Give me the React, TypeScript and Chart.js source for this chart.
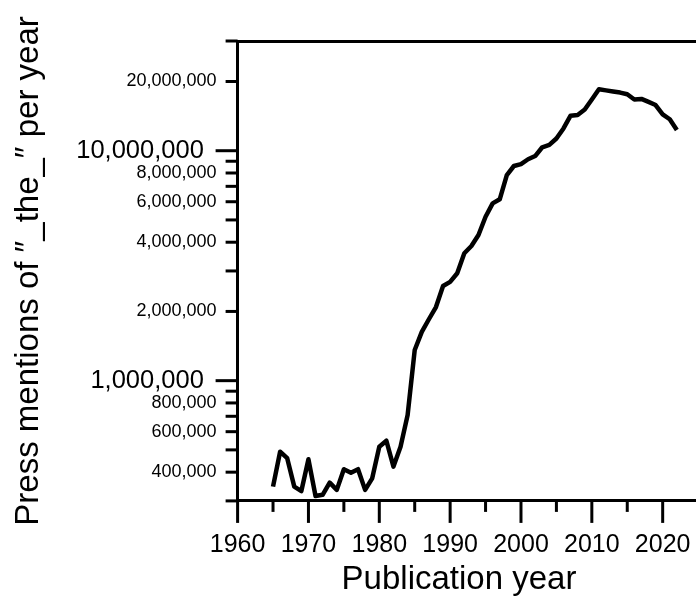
import React, { useEffect, useRef } from 'react';
import { Chart, registerables } from 'chart.js';

Chart.register(...registerables);

// ---- data ----
const YEARS = [
  1965, 1966, 1967, 1968, 1969, 1970, 1971, 1972, 1973, 1974,
  1975, 1976, 1977, 1978, 1979, 1980, 1981, 1982, 1983, 1984,
  1985, 1986, 1987, 1988, 1989, 1990, 1991, 1992, 1993, 1994,
  1995, 1996, 1997, 1998, 1999, 2000, 2001, 2002, 2003, 2004,
  2005, 2006, 2007, 2008, 2009, 2010, 2011, 2012, 2013, 2014,
  2015, 2016, 2017, 2018, 2019, 2020, 2021, 2022,
];
const MENTIONS = [
  346000, 491000, 460000, 346000, 331000, 455000, 315000, 319000, 360000, 335000,
  412000, 398000, 412000, 335000, 376000, 516000, 548000, 423000, 516000, 709000,
  1360000, 1630000, 1850000, 2090000, 2580000, 2690000, 2930000, 3580000, 3850000, 4300000,
  5160000, 5900000, 6150000, 7840000, 8580000, 8750000, 9180000, 9480000, 10350000, 10600000,
  11300000, 12500000, 14200000, 14300000, 15100000, 16700000, 18500000, 18300000, 18100000, 17900000,
  17600000, 16700000, 16800000, 16300000, 15800000, 14400000, 13700000, 12300000,
];
const X_TICKS = [1960, 1965, 1970, 1975, 1980, 1985, 1990, 1995, 2000, 2005, 2010, 2015, 2020, 2025];
const Y_TICKS = [
  300000, 400000, 500000, 600000, 700000, 800000, 900000,
  1000000, 2000000, 3000000, 4000000, 5000000, 6000000, 7000000, 8000000, 9000000,
  10000000, 20000000, 30000000,
];
const Y_LABELS: Record<string, string> = {
  '400000': '400,000',
  '600000': '600,000',
  '800000': '800,000',
  '1000000': '1,000,000',
  '2000000': '2,000,000',
  '4000000': '4,000,000',
  '6000000': '6,000,000',
  '8000000': '8,000,000',
  '10000000': '10,000,000',
  '20000000': '20,000,000',
};
const Y_MAJOR = [1000000, 10000000];
const X_TITLE = 'Publication year';
const Y_TITLE = 'Press mentions of \u2033_the_\u2033 per year';

// ---- layout ----
const W = 918;
const H = 597;
const LEFT = 237.6;
const TOP = 41;
const BOTTOM = 500.9;
const RIGHT = 698.1;
const TITLE_H = 33.6;
const FONT = '"Liberation Sans", Arial, Helvetica, sans-serif';

const tickPlugin = {
  id: 'customTicks',
  afterDraw(chart: any) {
    const { ctx, chartArea } = chart;
    const xs = chart.scales.x;
    const ys = chart.scales.y;
    ctx.save();
    ctx.strokeStyle = '#000';
    ctx.lineWidth = 3;
    ctx.lineCap = 'butt';
    ys.ticks.forEach((t: any) => {
      const py = ys.getPixelForValue(t.value);
      const len = Y_MAJOR.includes(t.value) ? 22 : 12;
      ctx.beginPath();
      ctx.moveTo(chartArea.left - len, py);
      ctx.lineTo(chartArea.left, py);
      ctx.stroke();
    });
    xs.ticks.forEach((t: any) => {
      const px = xs.getPixelForValue(t.value);
      const len = t.value % 10 === 0 ? 22 : 11;
      ctx.beginPath();
      ctx.moveTo(px, chartArea.bottom);
      ctx.lineTo(px, chartArea.bottom + len);
      ctx.stroke();
    });
    ctx.restore();
  },
};

export default function App() {
  const ref = useRef<HTMLCanvasElement>(null);

  useEffect(() => {
    const canvas = ref.current;
    if (!canvas) return;
    const chart = new Chart(canvas, {
      type: 'line',
      data: {
        datasets: [
          {
            data: YEARS.map((yr, i) => ({ x: yr, y: MENTIONS[i] })),
            borderColor: '#000',
            borderWidth: 4.5,
            borderJoinStyle: 'round',
            pointRadius: 0,
            tension: 0,
            fill: false,
            xAxisID: 'x',
            yAxisID: 'y',
          },
        ],
      },
      options: {
        animation: false,
        responsive: false,
        devicePixelRatio: 1,
        layout: { padding: 0 },
        plugins: {
          legend: { display: false },
          tooltip: { enabled: false },
          title: {
            display: true,
            position: 'bottom',
            text: X_TITLE,
            color: '#000',
            font: { size: 33, family: FONT, weight: 'normal', lineHeight: 1 },
            padding: { top: 0, bottom: 0.6 },
          },
        },
        scales: {
          x: {
            type: 'linear',
            position: 'bottom',
            min: 1960,
            max: 2025,
            afterBuildTicks: (s: any) => {
              s.ticks = X_TICKS.map((v) => ({ value: v }));
            },
            afterFit: (s: any) => {
              s.height = H - BOTTOM - TITLE_H;
            },
            ticks: {
              autoSkip: false,
              maxRotation: 0,
              padding: 10,
              color: '#000',
              font: { size: 25, family: FONT, lineHeight: 1 },
              callback: (v: any) => (Number(v) % 10 === 0 ? String(v) : ''),
            },
            grid: {
              display: true,
              drawOnChartArea: false,
              drawTicks: true,
              tickLength: 22,
              tickColor: 'rgba(0,0,0,0)',
            },
            border: { display: true, width: 3, color: '#000' },
          },
          xTop: {
            type: 'linear',
            position: 'top',
            min: 1960,
            max: 2025,
            afterFit: (s: any) => {
              s.height = TOP;
            },
            ticks: { display: false },
            grid: { display: true, drawOnChartArea: false, drawTicks: false },
            border: { display: true, width: 3, color: '#000' },
          },
          y: {
            type: 'logarithmic',
            position: 'left',
            min: 300000,
            max: 30000000,
            afterBuildTicks: (s: any) => {
              s.ticks = Y_TICKS.map((v) => ({ value: v }));
            },
            afterFit: (s: any) => {
              s.width = LEFT;
            },
            ticks: {
              autoSkip: false,
              padding: 9,
              color: '#000',
              font: (c: any) => ({
                size: c.tick && Y_MAJOR.includes(c.tick.value) ? 25.5 : 18,
                family: FONT,
                lineHeight: 1,
              }),
              callback: (v: any) => {
                const lab = Y_LABELS[String(v)] ?? '';
                return Y_MAJOR.includes(Number(v)) ? lab + '\u2002' : lab;
              },
            },
            grid: {
              display: true,
              drawOnChartArea: false,
              drawTicks: true,
              tickLength: 12,
              tickColor: 'rgba(0,0,0,0)',
            },
            border: { display: true, width: 3, color: '#000' },
            title: {
              display: true,
              text: Y_TITLE,
              color: '#000',
              font: { size: 33, family: FONT, lineHeight: 1 },
              padding: { top: 12, bottom: 0 },
            },
          },
          yRight: {
            type: 'linear',
            position: 'right',
            afterFit: (s: any) => {
              s.width = W - RIGHT;
            },
            ticks: { display: false },
            grid: { display: false },
            border: { display: false },
          },
        },
      } as any,
      plugins: [tickPlugin],
    });
    return () => chart.destroy();
  }, []);

  return (
    <div
      style={{
        position: 'fixed',
        left: 0,
        top: 0,
        width: 696,
        height: 597,
        overflow: 'hidden',
        background: '#fff',
      }}
    >
      <canvas ref={ref} width={W} height={H} style={{ display: 'block', width: W, height: H }} />
    </div>
  );
}
